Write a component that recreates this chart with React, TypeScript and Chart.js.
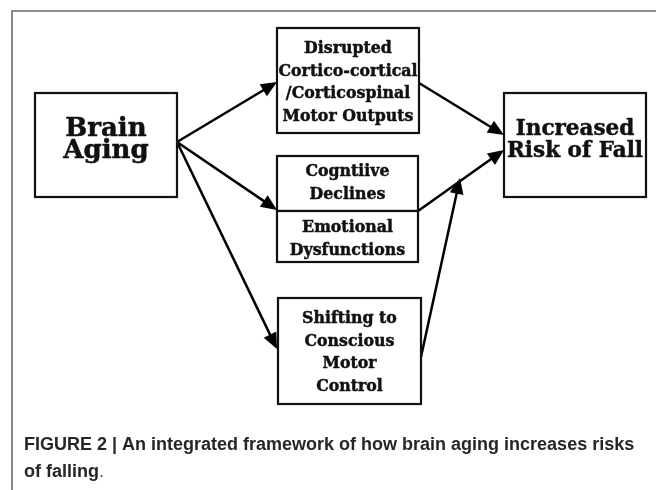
import { useEffect, useRef } from "react";
import { Chart, registerables } from "chart.js";

Chart.register(...registerables);

// ---- Diagram data (coordinates in figure units: 0..656 wide, 0..490 tall) ----
const nodeLabels: string[][] = [
  ["Brain", "Aging"],
  ["Disrupted", "Cortico-cortical", "/Corticospinal", "Motor Outputs"],
  ["Cogntiive", "Declines"],
  ["Emotional", "Dysfunctions"],
  ["Shifting to", "Conscious", "Motor", "Control"],
  ["Increased", "Risk of Fall"],
];
const nodeLeft = [35, 277, 277, 277, 278, 504];
const nodeRight = [177, 419, 418, 418, 421, 646];
const nodeTop = [93, 28, 156, 211, 298, 93];
const nodeBottom = [197, 133, 211, 262, 404, 197];
const nodeFirstBaseline = [136, 53, 176, 232, 323, 135];
const nodeLineStep = [22, 22.7, 22.7, 22.7, 22.7, 22];
const nodeFontSize = [26, 17, 17, 17, 17, 22];

const arrowFromX = [177, 177, 177, 419, 418, 421];
const arrowFromY = [142, 142, 142, 83, 211, 357];
const arrowToX = [277, 277, 277, 504, 504, 460];
const arrowToY = [82, 210, 349, 135, 150, 178];

const frameLeft = 12;
const frameTop = 11;

const captionLines = [
  "FIGURE 2 | An integrated framework of how brain aging increases risks",
  "of falling",
];
const captionTail = ".";
const captionBaselines = [450, 477];

const SERIF = "'DejaVu Serif', 'Liberation Serif', serif";
const SANS = "'Liberation Sans', Arial, sans-serif";

const diagramPlugin = {
  id: "diagram",
  afterDraw(chart: any) {
    const ctx: CanvasRenderingContext2D = chart.ctx;
    const xs = chart.scales.x;
    const ys = chart.scales.y;
    const px = (v: number) => xs.getPixelForValue(v);
    const py = (v: number) => ys.getPixelForValue(v);

    ctx.save();
    // outer frame
    ctx.strokeStyle = "#6a6a6a";
    ctx.lineWidth = 1.6;
    ctx.beginPath();
    ctx.moveTo(px(frameLeft), py(490));
    ctx.lineTo(px(frameLeft), py(frameTop));
    ctx.lineTo(px(656), py(frameTop));
    ctx.stroke();

    // arrows
    ctx.strokeStyle = "#000";
    ctx.fillStyle = "#000";
    ctx.lineWidth = 2.5;
    for (let i = 0; i < arrowFromX.length; i++) {
      const x0 = px(arrowFromX[i]);
      const y0 = py(arrowFromY[i]);
      const x1 = px(arrowToX[i]);
      const y1 = py(arrowToY[i]);
      const ang = Math.atan2(y1 - y0, x1 - x0);
      const len = 16;
      const half = 7;
      const bx = x1 - Math.cos(ang) * len;
      const by = y1 - Math.sin(ang) * len;
      ctx.beginPath();
      ctx.moveTo(x0, y0);
      ctx.lineTo(bx + Math.cos(ang) * 2, by + Math.sin(ang) * 2);
      ctx.stroke();
      ctx.beginPath();
      ctx.moveTo(x1, y1);
      ctx.lineTo(bx + Math.cos(ang + Math.PI / 2) * half, by + Math.sin(ang + Math.PI / 2) * half);
      ctx.lineTo(bx - Math.cos(ang + Math.PI / 2) * half, by - Math.sin(ang + Math.PI / 2) * half);
      ctx.closePath();
      ctx.fill();
    }

    // boxes
    ctx.lineWidth = 2.2;
    for (let i = 0; i < nodeLabels.length; i++) {
      const l = px(nodeLeft[i]);
      const r = px(nodeRight[i]);
      const t = py(nodeTop[i]);
      const b = py(nodeBottom[i]);
      ctx.fillStyle = "#fff";
      ctx.fillRect(l, t, r - l, b - t);
      ctx.strokeStyle = "#111";
      ctx.strokeRect(l, t, r - l, b - t);
    }

    // box texts
    ctx.fillStyle = "#111";
    ctx.strokeStyle = "#111";
    ctx.textAlign = "center";
    ctx.textBaseline = "alphabetic";
    ctx.font = `bold 17px ${SERIF}`;
    const smallSx = Math.min(1, 139 / ctx.measureText("Cortico-cortical").width);
    for (let i = 0; i < nodeLabels.length; i++) {
      const size = nodeFontSize[i];
      ctx.font = `bold ${size}px ${SERIF}`;
      const boxW = px(nodeRight[i]) - px(nodeLeft[i]);
      const widest = Math.max(...nodeLabels[i].map((s) => ctx.measureText(s).width));
      const sx = size < 20 ? smallSx : Math.min(1, (boxW - 6) / widest);
      const cx = (px(nodeLeft[i]) + px(nodeRight[i])) / 2;
      nodeLabels[i].forEach((line, k) => {
        ctx.save();
        ctx.translate(cx, py(nodeFirstBaseline[i] + k * nodeLineStep[i]));
        ctx.scale(sx, 1);
        ctx.lineWidth = 0.5;
        ctx.fillText(line, 0, 0);
        ctx.strokeText(line, 0, 0);
        ctx.restore();
      });
    }

    // caption
    ctx.textAlign = "left";
    ctx.fillStyle = "#262626";
    ctx.font = `bold 18px ${SANS}`;
    const cx0 = px(24);
    ctx.fillText(captionLines[0], cx0, py(captionBaselines[0]), 616);
    ctx.fillText(captionLines[1], cx0, py(captionBaselines[1]));
    const w = ctx.measureText(captionLines[1]).width;
    ctx.font = `18px ${SANS}`;
    ctx.fillStyle = "#555";
    ctx.fillText(captionTail, cx0 + w, py(captionBaselines[1]));
    ctx.restore();
  },
};

export default function App() {
  const ref = useRef<HTMLCanvasElement | null>(null);
  useEffect(() => {
    if (!ref.current) return;
    const chart = new Chart(ref.current, {
      type: "scatter",
      data: {
        datasets: [
          {
            data: nodeLeft.map((x, i) => ({ x, y: nodeTop[i] })),
            pointRadius: 0,
            showLine: false,
          },
        ],
      },
      options: {
        animation: false,
        responsive: false,
        maintainAspectRatio: false,
        layout: { padding: 0 },
        events: [],
        plugins: { legend: { display: false }, tooltip: { enabled: false } },
        scales: {
          x: { type: "linear", min: 0, max: 656, display: false },
          y: { type: "linear", min: 0, max: 490, reverse: true, display: false },
        },
      },
      plugins: [diagramPlugin],
    });
    return () => chart.destroy();
  }, []);
  return (
    <div style={{ position: "fixed", left: 0, top: 0, width: 656, height: 490, background: "#fff" }}>
      <canvas ref={ref} width={656} height={490} style={{ width: 656, height: 490, display: "block" }} />
    </div>
  );
}
